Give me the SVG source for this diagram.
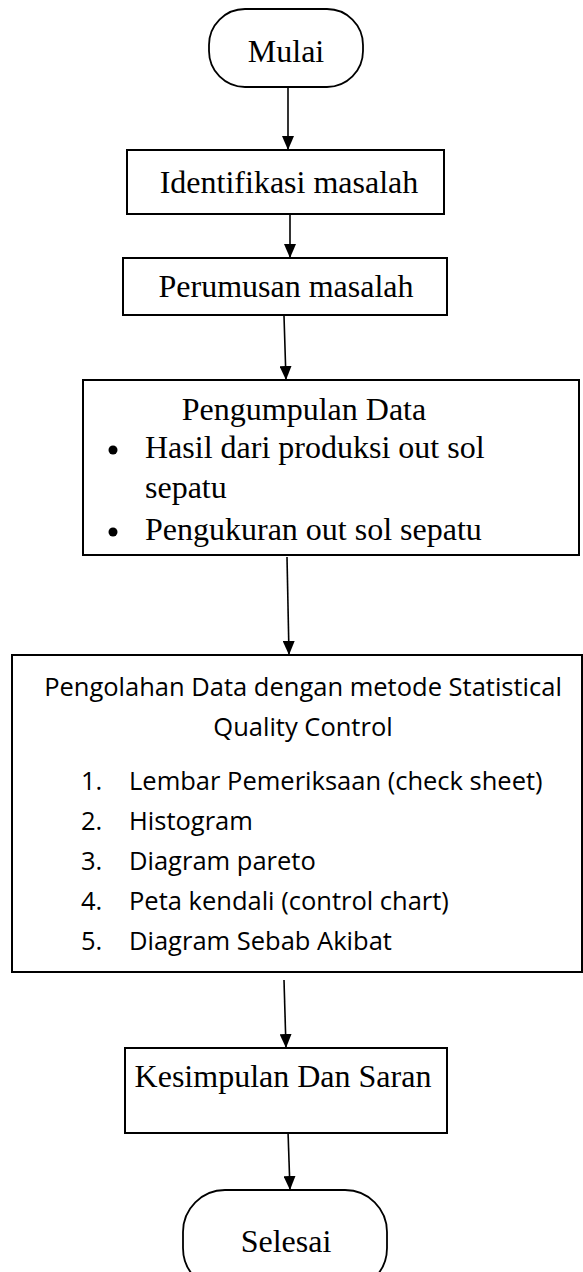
<svg xmlns="http://www.w3.org/2000/svg" width="583" height="1272" viewBox="0 0 583 1272">
<style>
.box{fill:#fff;stroke:#000;stroke-width:2}
.term{fill:#fff;stroke:#000;stroke-width:1.8}
.serif{font-family:"Liberation Serif","Times New Roman",serif;font-size:32px;fill:#000}
.sans{font-family:"Open Sans","Liberation Sans",sans-serif;font-size:25.5px;fill:#000}
.conn{stroke:#000;stroke-width:1.6;fill:none;marker-end:url(#ah)}
</style>
<defs>
<marker id="ah" viewBox="0 0 14 12" refX="14" refY="6" markerWidth="14" markerHeight="12" markerUnits="userSpaceOnUse" orient="auto">
<path d="M0,0 L14,6 L0,12 Z" fill="#000"/>
</marker>
</defs>
<rect width="583" height="1272" fill="#fff"/>
<g id="connectors">
<line class="conn" x1="288" y1="87" x2="288" y2="150"/>
<line class="conn" x1="290" y1="211" x2="290" y2="258"/>
<line class="conn" x1="284" y1="316" x2="286" y2="380"/>
<line class="conn" x1="287" y1="557" x2="289" y2="655"/>
<line class="conn" x1="284" y1="980" x2="286" y2="1048"/>
<line class="conn" x1="288" y1="1131" x2="290" y2="1190"/>
</g>
<g id="mulai">
<rect class="term" x="209" y="9" width="154" height="78" rx="36" ry="36"/>
<text class="serif" x="286" y="62" text-anchor="middle">Mulai</text>
</g>
<g id="identifikasi">
<rect class="box" x="127" y="150" width="317" height="64"/>
<text class="serif" x="289" y="193" text-anchor="middle">Identifikasi masalah</text>
</g>
<g id="perumusan">
<rect class="box" x="123" y="258" width="324" height="57"/>
<text class="serif" x="286" y="297" text-anchor="middle">Perumusan masalah</text>
</g>
<g id="pengumpulan">
<rect class="box" x="83" y="380" width="496" height="175"/>
<text class="serif" x="304" y="420" text-anchor="middle">Pengumpulan Data</text>
<circle cx="113" cy="450" r="4.5"/>
<text class="serif" x="145" y="458">Hasil dari produksi out sol</text>
<text class="serif" x="145" y="498">sepatu</text>
<circle cx="113" cy="532" r="4.5"/>
<text class="serif" x="145" y="540">Pengukuran out sol sepatu</text>
</g>
<g id="pengolahan">
<rect class="box" x="12" y="655" width="570" height="317"/>
<text class="sans" x="303" y="696" text-anchor="middle">Pengolahan Data dengan metode Statistical</text>
<text class="sans" x="303" y="736" text-anchor="middle">Quality Control</text>
<text class="sans" x="81" y="790">1.</text><text class="sans" x="129" y="790">Lembar Pemeriksaan (check sheet)</text>
<text class="sans" x="81" y="830">2.</text><text class="sans" x="129" y="830">Histogram</text>
<text class="sans" x="81" y="870">3.</text><text class="sans" x="129" y="870">Diagram pareto</text>
<text class="sans" x="81" y="910">4.</text><text class="sans" x="129" y="910">Peta kendali (control chart)</text>
<text class="sans" x="81" y="950">5.</text><text class="sans" x="129" y="950">Diagram Sebab Akibat</text>
</g>
<g id="kesimpulan">
<rect class="box" x="125" y="1048" width="322" height="85"/>
<text class="serif" x="283" y="1087" text-anchor="middle">Kesimpulan Dan Saran</text>
</g>
<g id="selesai">
<rect class="term" x="183" y="1190" width="204" height="100" rx="42" ry="42"/>
<text class="serif" x="286" y="1252" text-anchor="middle">Selesai</text>
</g>
</svg>
